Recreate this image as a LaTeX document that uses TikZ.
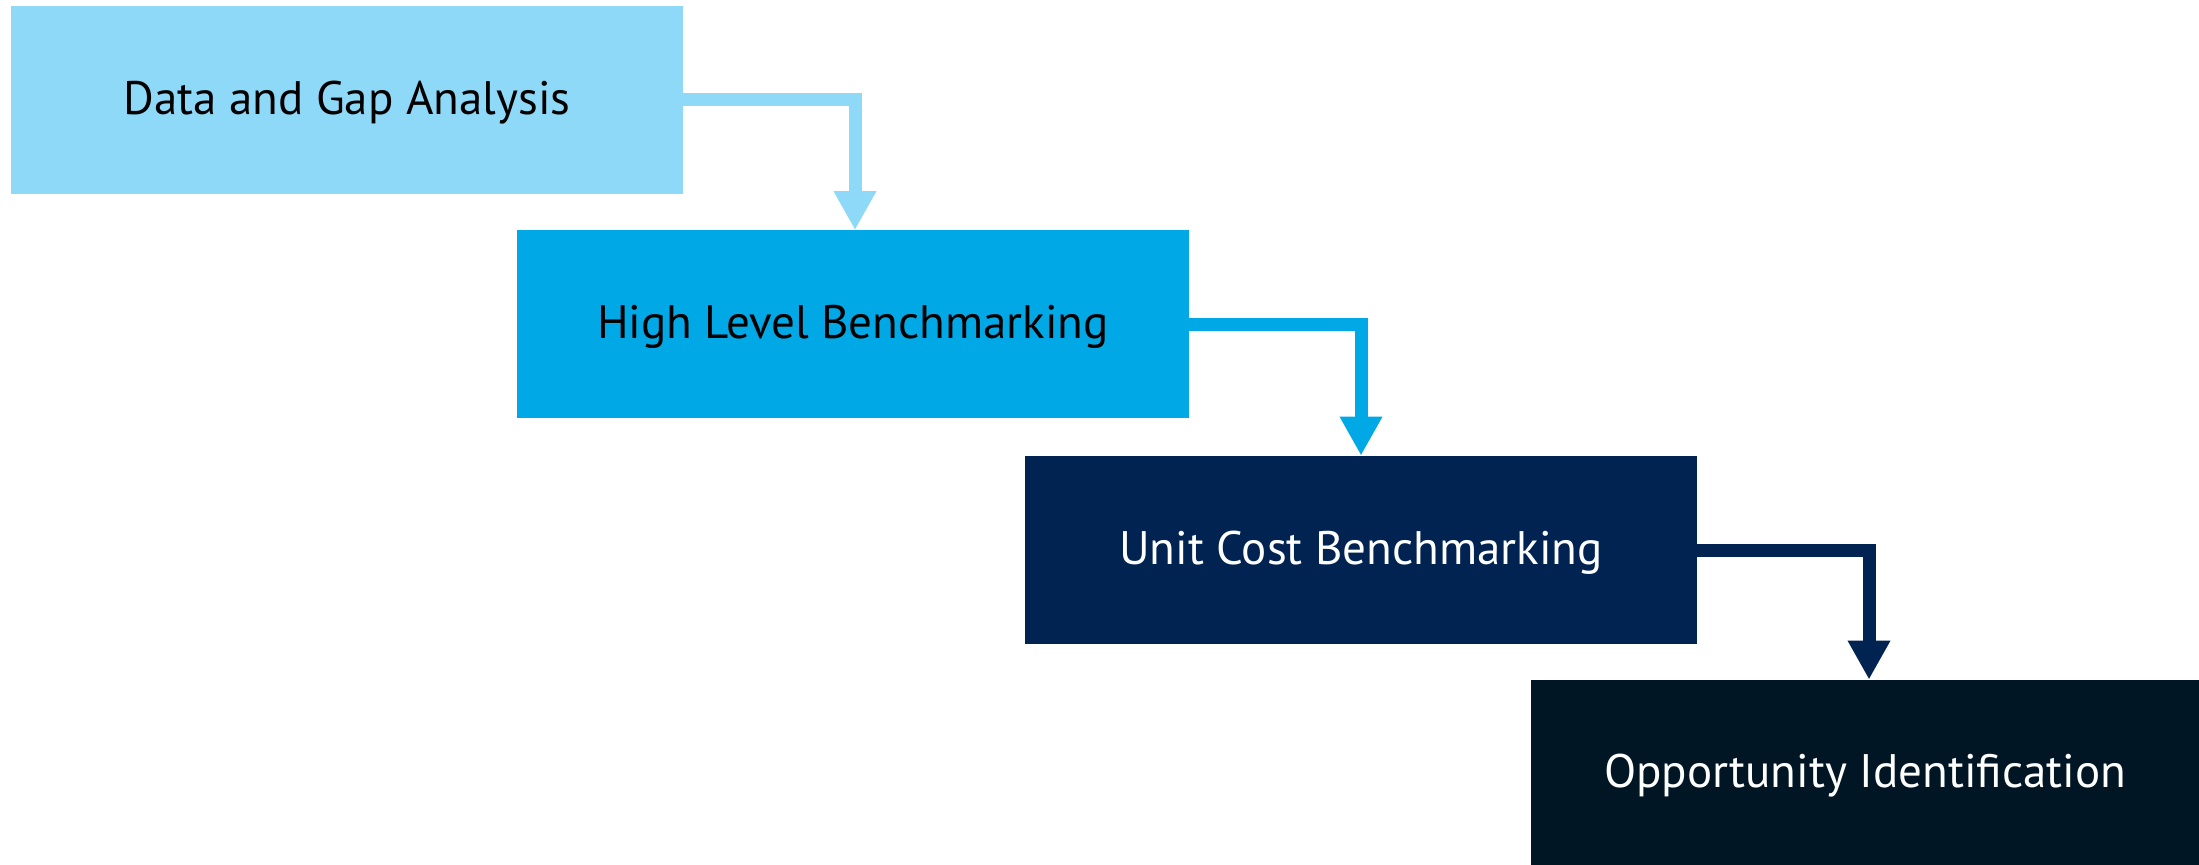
\documentclass[tikz,border=0pt]{standalone}
\usepackage{fontspec}
\setmainfont{PT Sans}
\usetikzlibrary{arrows.meta}

\definecolor{stepA}{HTML}{8ED9F7}
\definecolor{stepB}{HTML}{00A9E6}
\definecolor{stepC}{HTML}{002352}
\definecolor{stepD}{HTML}{011624}

\tikzset{
  stage/.style={rectangle, inner sep=0pt, minimum width=336pt, minimum height=94pt,
    font=\fontsize{23.5pt}{28pt}\selectfont, text height=16.5pt, text depth=2pt},
  flow/.style={line width=6.5pt, line join=miter,
    -{Triangle[width=20pt,length=19.5pt]}},
}

\begin{document}
\begin{tikzpicture}[x=0.5pt, y=-0.5pt]
  \path[use as bounding box] (0,0) rectangle (2199,865);

  \node[stage, fill=stepA, text=black] (s1) at (347,100) {Data and Gap Analysis};
  \node[stage, fill=stepB, text=black] (s2) at (853,324.5) {High Level Benchmarking};
  \node[stage, fill=stepC, text=white] (s3) at (1361,550) {Unit Cost Benchmarking};
  \node[stage, fill=stepD, text=white, minimum width=334pt, minimum height=92.5pt]
    (s4) at (1865,772.5) {Opportunity Identification};

  \draw[flow, stepA] (s1.east) -| ([xshift=1pt]s2.north);
  \draw[flow, stepB] (s2.east) -| (s3.north);
  \draw[flow, stepC] (s3.east) -| ([xshift=2pt]s4.north);
\end{tikzpicture}
\end{document}
